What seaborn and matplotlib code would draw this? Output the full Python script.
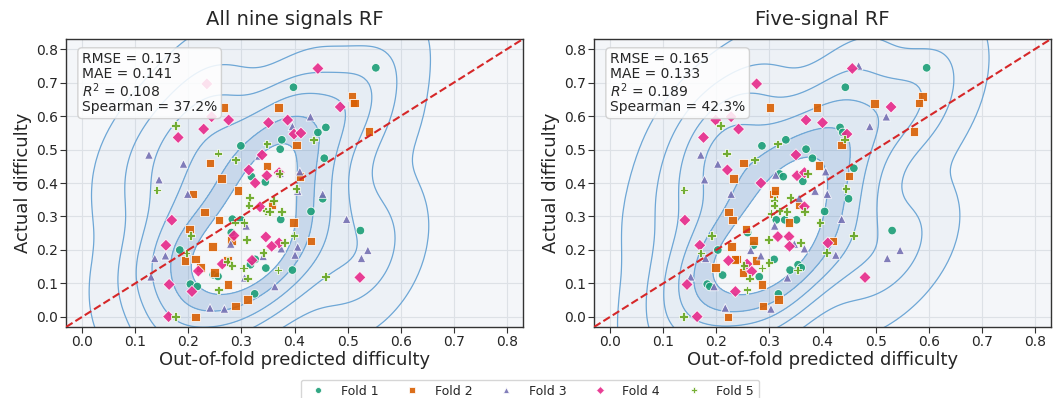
import numpy as np
import pandas as pd
import matplotlib
matplotlib.use("Agg")
import matplotlib.pyplot as plt
from matplotlib.colors import ListedColormap
import seaborn as sns

# ---------------- data ----------------
folds = ["Fold 1", "Fold 2", "Fold 3", "Fold 4", "Fold 5"]
panel_titles = ["All nine signals RF", "Five-signal RF"]
metrics_all = ["RMSE = 0.173", "MAE = 0.141", "$R^2$ = 0.108", "Spearman = 37.2%"]
metrics_five = ["RMSE = 0.165", "MAE = 0.133", "$R^2$ = 0.189", "Spearman = 42.3%"]

# All nine signals: predicted (x) and actual (y) per fold
all_f1_x = [0.553, 0.398, 0.459, 0.444, 0.376, 0.299, 0.373, 0.456, 0.319, 0.345, 0.453, 0.431, 0.374, 0.283,
            0.299, 0.281, 0.524, 0.184, 0.326, 0.317, 0.346, 0.396, 0.247, 0.256, 0.204, 0.217, 0.325]
all_f1_y = [0.744, 0.686, 0.566, 0.551, 0.529, 0.511, 0.501, 0.474, 0.419, 0.403, 0.353, 0.315, 0.291, 0.292,
            0.290, 0.252, 0.258, 0.200, 0.172, 0.156, 0.146, 0.140, 0.126, 0.121, 0.098, 0.091, 0.069]
all_f2_x = [0.508, 0.510, 0.513, 0.267, 0.370, 0.540, 0.404, 0.241, 0.348, 0.263, 0.410, 0.209, 0.294, 0.231,
            0.258, 0.358, 0.398, 0.202, 0.281, 0.246, 0.431, 0.194, 0.214, 0.274, 0.223, 0.249, 0.275, 0.311,
            0.289, 0.214]
all_f2_y = [0.659, 0.639, 0.639, 0.625, 0.625, 0.553, 0.513, 0.460, 0.451, 0.413, 0.419, 0.367, 0.378, 0.314,
            0.289, 0.335, 0.282, 0.262, 0.229, 0.211, 0.227, 0.168, 0.173, 0.170, 0.148, 0.133, 0.097, 0.052,
            0.033, 0.000]
all_f3_x = [0.430, 0.396, 0.126, 0.191, 0.333, 0.145, 0.410, 0.373, 0.199, 0.406, 0.453, 0.498, 0.309, 0.280,
            0.375, 0.406, 0.341, 0.401, 0.137, 0.157, 0.538, 0.526, 0.130, 0.306, 0.363, 0.241, 0.268]
all_f3_y = [0.598, 0.569, 0.484, 0.457, 0.481, 0.410, 0.434, 0.429, 0.367, 0.376, 0.367, 0.292, 0.272, 0.218,
            0.204, 0.209, 0.181, 0.185, 0.175, 0.183, 0.199, 0.175, 0.120, 0.117, 0.091, 0.027, 0.024]
all_f4_x = [0.444, 0.235, 0.486, 0.244, 0.276, 0.351, 0.387, 0.229, 0.399, 0.412, 0.181, 0.339, 0.314, 0.348,
            0.326, 0.371, 0.335, 0.169, 0.286, 0.346, 0.158, 0.371, 0.357, 0.320, 0.264, 0.219, 0.164, 0.207,
            0.523, 0.163]
all_f4_y = [0.742, 0.696, 0.627, 0.598, 0.588, 0.580, 0.588, 0.561, 0.546, 0.549, 0.536, 0.484, 0.439, 0.422,
            0.400, 0.431, 0.329, 0.289, 0.243, 0.239, 0.214, 0.221, 0.211, 0.169, 0.158, 0.137, 0.097, 0.076,
            0.118, 0.001]
all_f5_x = [0.176, 0.348, 0.256, 0.289, 0.436, 0.371, 0.141, 0.403, 0.315, 0.314, 0.360, 0.346, 0.353, 0.375,
            0.305, 0.288, 0.205, 0.310, 0.399, 0.381, 0.196, 0.341, 0.274, 0.282, 0.304, 0.311, 0.369, 0.458,
            0.257, 0.176]
all_f5_y = [0.571, 0.517, 0.489, 0.469, 0.529, 0.429, 0.379, 0.384, 0.357, 0.334, 0.348, 0.317, 0.315, 0.315,
            0.282, 0.283, 0.243, 0.231, 0.244, 0.223, 0.191, 0.193, 0.166, 0.154, 0.146, 0.116, 0.140, 0.120,
            0.081, 0.001]

# Five-signal: predicted (x) and actual (y) per fold
five_f1_x = [0.596, 0.443, 0.433, 0.438, 0.331, 0.286, 0.369, 0.381, 0.319, 0.326, 0.459, 0.363, 0.449, 0.404,
             0.313, 0.329, 0.351, 0.259, 0.270, 0.203, 0.531, 0.309, 0.212, 0.339, 0.354, 0.360, 0.183, 0.188,
             0.281, 0.317]
five_f1_y = [0.744, 0.686, 0.566, 0.551, 0.529, 0.511, 0.501, 0.474, 0.427, 0.419, 0.444, 0.405, 0.353, 0.315,
             0.290, 0.290, 0.290, 0.252, 0.214, 0.200, 0.258, 0.172, 0.125, 0.140, 0.156, 0.147, 0.098, 0.091,
             0.120, 0.069]
five_f2_x = [0.588, 0.582, 0.301, 0.390, 0.498, 0.572, 0.436, 0.251, 0.393, 0.233, 0.450, 0.308, 0.311, 0.223,
             0.231, 0.356, 0.337, 0.256, 0.270, 0.229, 0.420, 0.199, 0.239, 0.235, 0.275, 0.250, 0.286, 0.317,
             0.288, 0.222]
five_f2_y = [0.658, 0.639, 0.625, 0.625, 0.637, 0.553, 0.513, 0.460, 0.452, 0.413, 0.421, 0.367, 0.378, 0.314,
             0.290, 0.335, 0.282, 0.262, 0.228, 0.211, 0.227, 0.148, 0.173, 0.171, 0.168, 0.133, 0.097, 0.052,
             0.033, 0.000]
five_f3_x = [0.468, 0.489, 0.520, 0.171, 0.203, 0.178, 0.312, 0.406, 0.228, 0.386, 0.409, 0.356, 0.436, 0.310,
             0.265, 0.347, 0.366, 0.284, 0.180, 0.425, 0.546, 0.522, 0.152, 0.334, 0.196, 0.217, 0.303]
five_f3_y = [0.750, 0.569, 0.598, 0.484, 0.457, 0.410, 0.424, 0.434, 0.367, 0.376, 0.367, 0.355, 0.292, 0.272,
             0.199, 0.218, 0.204, 0.183, 0.175, 0.185, 0.199, 0.175, 0.120, 0.117, 0.091, 0.027, 0.024]
five_f4_x = [0.456, 0.276, 0.529, 0.228, 0.199, 0.369, 0.400, 0.242, 0.446, 0.176, 0.350, 0.221, 0.352, 0.366,
             0.284, 0.366, 0.141, 0.316, 0.337, 0.169, 0.410, 0.338, 0.223, 0.258, 0.267, 0.145, 0.236, 0.480,
             0.164]
five_f4_y = [0.742, 0.696, 0.627, 0.598, 0.588, 0.588, 0.580, 0.561, 0.546, 0.536, 0.484, 0.439, 0.422, 0.431,
             0.400, 0.329, 0.289, 0.240, 0.240, 0.214, 0.221, 0.211, 0.168, 0.158, 0.136, 0.097, 0.076, 0.118,
             0.001]
five_f5_x = [0.208, 0.315, 0.219, 0.272, 0.441, 0.372, 0.139, 0.444, 0.339, 0.309, 0.309, 0.319, 0.333, 0.366,
             0.395, 0.303, 0.191, 0.298, 0.458, 0.359, 0.171, 0.408, 0.252, 0.286, 0.263, 0.299, 0.353, 0.258,
             0.138]
five_f5_y = [0.571, 0.517, 0.489, 0.469, 0.531, 0.429, 0.379, 0.384, 0.357, 0.348, 0.334, 0.317, 0.315, 0.315,
             0.282, 0.309, 0.243, 0.231, 0.244, 0.223, 0.191, 0.193, 0.154, 0.146, 0.116, 0.163, 0.140, 0.081,
             0.001]

tick_values = [0.0, 0.1, 0.2, 0.3, 0.4, 0.5, 0.6, 0.7, 0.8]


def build_frame(xs, ys):
    rows = []
    for fold, fx, fy in zip(folds, xs, ys):
        for a, b in zip(fx, fy):
            rows.append({"pred": a, "actual": b, "fold": fold})
    return pd.DataFrame(rows)


df_all = build_frame([all_f1_x, all_f2_x, all_f3_x, all_f4_x, all_f5_x],
                     [all_f1_y, all_f2_y, all_f3_y, all_f4_y, all_f5_y])
df_five = build_frame([five_f1_x, five_f2_x, five_f3_x, five_f4_x, five_f5_x],
                      [five_f1_y, five_f2_y, five_f3_y, five_f4_y, five_f5_y])

# ---------------- style ----------------
sns.set_theme(style="whitegrid")
plt.rcParams["font.family"] = ["DejaVu Sans"]

palette = dict(zip(folds, ["#1b9e77", "#d95f02", "#7570b3", "#e7298a", "#66a61e"]))
markers = dict(zip(folds, ["o", "s", "^", "D", "P"]))
kde_levels = [0.004, 0.045, 0.14, 0.28, 0.46, 0.66]
band_cmap = ListedColormap([(0.22, 0.47, 0.75, a) for a in (0.035, 0.07, 0.11, 0.16, 0.23)])
line_color = "#6ea7d6"
lims = (-0.03, 0.83)

fig = plt.figure(figsize=(10.6, 3.98), dpi=100)
ax1 = fig.add_axes([0.0623, 0.1784, 0.4311, 0.7236])
ax2 = fig.add_axes([0.5604, 0.1784, 0.4311, 0.7236])

for i, (ax, df, title, mets) in enumerate(zip([ax1, ax2], [df_all, df_five], panel_titles,
                                               [metrics_all, metrics_five])):
    ax.set_facecolor("#f4f6f9")
    ax.grid(True, color="#dde1e6", linewidth=0.8)
    ax.set_axisbelow(True)
    sns.kdeplot(x=df["pred"], y=df["actual"], ax=ax, fill=True, levels=kde_levels,
                cmap=band_cmap, bw_adjust=1.2, gridsize=150)
    sns.kdeplot(x=df["pred"], y=df["actual"], ax=ax, fill=False, levels=kde_levels,
                color=line_color, linewidths=0.9, bw_adjust=1.2, gridsize=150)
    sns.scatterplot(data=df, x="pred", y="actual", hue="fold", style="fold", palette=palette,
                    markers=markers, hue_order=folds, style_order=folds, s=38,
                    edgecolor="white", linewidth=0.6, alpha=0.9, ax=ax, zorder=3,
                    legend=(i == 0))
    ax.plot(lims, lims, color="#d62728", linestyle="--", linewidth=1.5, zorder=4)
    ax.set_xlim(lims)
    ax.set_ylim(lims)
    ax.set_xticks(tick_values)
    ax.set_yticks(tick_values)
    ax.set_xticklabels([f"{t:.1f}" for t in tick_values], fontsize=10)
    ax.set_yticklabels([f"{t:.1f}" for t in tick_values], fontsize=10)
    ax.tick_params(axis="both", which="both", length=4, width=0.8, color="#333333",
                   bottom=True, left=True, pad=2)
    for sp in ax.spines.values():
        sp.set_color("#333333")
        sp.set_linewidth(1.0)
    ax.set_title(title, fontsize=14, pad=10)
    ax.set_xlabel("Out-of-fold predicted difficulty", fontsize=13, labelpad=1)
    ax.set_ylabel("Actual difficulty", fontsize=13, labelpad=3)
    ax.text(0.035, 0.955, "\n".join(mets), transform=ax.transAxes, fontsize=10,
            va="top", ha="left", zorder=10, linespacing=1.05,
            bbox=dict(boxstyle="round,pad=0.3", facecolor="white", edgecolor="#cccccc",
                      alpha=0.85))

handles, labels = ax1.get_legend_handles_labels()
ax1.get_legend().remove()
fig.legend(handles, labels, loc="upper center", bbox_to_anchor=(0.5, 0.046), ncol=5,
           fontsize=9, frameon=True, markerscale=0.7, borderaxespad=0, columnspacing=1.7)

fig.savefig("out.png", dpi=100)
